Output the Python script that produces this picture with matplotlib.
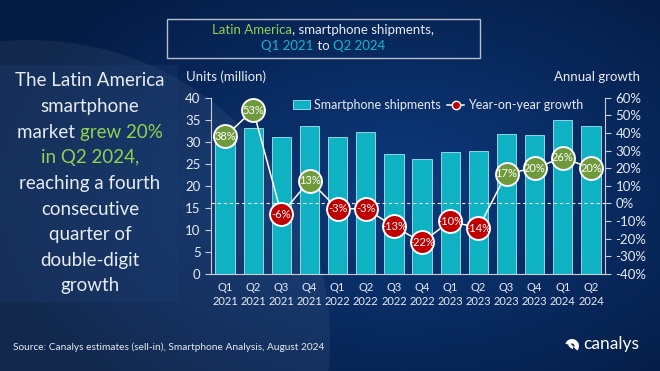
import matplotlib.pyplot as plt
import numpy as np
from matplotlib.patches import Rectangle, Circle, Wedge, Patch
from matplotlib.lines import Line2D

plt.rcParams['font.family'] = ['Lato', 'DejaVu Sans']

# Data
quarters = ["Q1\n2021", "Q2\n2021", "Q3\n2021", "Q4\n2021",
            "Q1\n2022", "Q2\n2022", "Q3\n2022", "Q4\n2022",
            "Q1\n2023", "Q2\n2023", "Q3\n2023", "Q4\n2023",
            "Q1\n2024", "Q2\n2024"]
shipments = [32.0, 33.2, 31.1, 33.5, 31.0, 32.3, 27.2, 26.1,
             27.7, 27.8, 31.7, 31.5, 35.0, 33.5]
growth = [38, 53, -6, 13, -3, -3, -13, -22, -10, -14, 17, 20, 26, 20]

W, H = 660, 371
BAR = "#0FB2C2"
GREEN = "#6F9A3B"
RED = "#C00000"
LIME = "#92D050"
CYAN = "#13B5CC"
TXT = "#E8ECF2"

fig = plt.figure(figsize=(6.6, 3.71), dpi=100)
fig.patch.set_facecolor("#06214F")

# background gradient
bg = fig.add_axes([0, 0, 1, 1], zorder=-10)
yy, xx = np.mgrid[0:H, 0:W]
d = np.sqrt(((xx - 400) / 430.0) ** 2 + ((yy - 190) / 270.0) ** 2)
base = np.array([0x0D, 0x3A, 0x7E]) / 255
edge = np.array([0x04, 0x1B, 0x42]) / 255
t = np.clip(d, 0, 1)[..., None]
img = base * (1 - t) + edge * t
bg.imshow(img, extent=[0, W, H, 0], aspect="auto")
# lighter swoosh on the left
bg.add_patch(Circle((30, 340), 300, facecolor="#ffffff", alpha=0.06, edgecolor="none"))
# left panel
bg.add_patch(Rectangle((0, 65), 178, 237, facecolor="#1C3D70", alpha=0.35, edgecolor="none"))
bg.set_xlim(0, W)
bg.set_ylim(H, 0)
bg.axis("off")


def fx(px):
    return px / W


def fy(py):
    return 1 - py / H


# chart axes
ax = fig.add_axes([fx(211), fy(274), fx(605) - fx(211), fy(97.7) - fy(274)])
ax.patch.set_alpha(0)
x = np.arange(len(quarters))
ax.bar(x, shipments, 0.69, color=BAR, edgecolor="#A8E4EA", linewidth=0.6,
       label="Smartphone shipments", zorder=2)
ax.set_xlim(-0.5, len(quarters) - 0.5)
ax.set_ylim(0, 40)
ax.set_yticks(range(0, 41, 5))
ax.set_xticks(x)
ax.set_xticklabels(quarters, fontsize=8, color=TXT, linespacing=1.3)
ax.tick_params(axis="x", length=0, pad=6)
ax.tick_params(axis="y", colors="#C8CED8", labelcolor=TXT, labelsize=9.5, length=4, direction="out")
for s in ["top", "right"]:
    ax.spines[s].set_visible(False)
ax.spines["left"].set_color("#C8CED8")
ax.spines["bottom"].set_color("#C8CED8")

ax2 = ax.twinx()
ax2.set_ylim(-40, 60)
ax2.set_yticks(range(-40, 61, 10))
ax2.set_yticklabels([f"{v}%" for v in range(-40, 61, 10)])
ax2.tick_params(axis="y", colors="#C8CED8", labelcolor=TXT, labelsize=9.5, length=4, direction="out")
for s in ["top", "left", "bottom"]:
    ax2.spines[s].set_visible(False)
ax2.spines["right"].set_color("#C8CED8")
ax2.axhline(0, color="#E6E9EF", lw=0.8, ls=(0, (3, 2.5)), zorder=1)
ax2.plot(x, growth, color="white", lw=1.1, zorder=3)
for xi, g in zip(x, growth):
    c = GREEN if g > 0 else RED
    ax2.plot(xi, g, "o", ms=16.5, mfc=c, mec="white", mew=1.4, zorder=4)
    ax2.text(xi, g, f"{g}%", ha="center", va="center", color="white", fontsize=8, zorder=5)

# legend
handles = [Patch(facecolor=BAR, edgecolor="#A8E4EA", lw=0.6),
           Line2D([0], [0], color="white", lw=1.1, marker="o", ms=6, mfc=RED, mec="white", mew=1)]
fig.legend(handles, ["Smartphone shipments", "Year-on-year growth"],
           loc="center", bbox_to_anchor=(fx(438), fy(105)), ncol=2, frameon=False,
           fontsize=9, labelcolor=TXT, handlelength=1.4, handletextpad=0.3,
           columnspacing=0.5)

fig.text(fx(186), fy(77), "Units (million)", color=TXT, fontsize=9.5, va="center")
fig.text(fx(640), fy(77), "Annual growth", color=TXT, fontsize=9.5, va="center", ha="right")

# title box
bg.add_patch(Rectangle((167, 19), 313, 39, facecolor="none", edgecolor="#B8C0CC", lw=1))

fig.canvas.draw()
renderer = fig.canvas.get_renderer()


def rich_line(pieces, cx, cy, size):
    """Draw a centred line made of (text, colour) pieces."""
    objs = []
    for s, c in pieces:
        objs.append(fig.text(0, 0, s, color=c, fontsize=size, va="center", ha="left"))
    widths = [o.get_window_extent(renderer).width for o in objs]
    left = cx - sum(widths) / 2
    for o, w in zip(objs, widths):
        o.set_position((fx(left), fy(cy)))
        left += w


rich_line([("Latin America", LIME), (", smartphone shipments,", TXT)], 323, 30, 9.5)
rich_line([("Q1 2021", CYAN), (" to ", TXT), ("Q2 2024", CYAN)], 323, 46, 9.5)

side = [
    [("The Latin America", TXT)],
    [("smartphone", TXT)],
    [("market ", TXT), ("grew 20%", LIME)],
    [("in Q2 2024,", LIME)],
    [("reaching a fourth", TXT)],
    [("consecutive", TXT)],
    [("quarter of", TXT)],
    [("double-digit", TXT)],
    [("growth", TXT)],
]
for i, pcs in enumerate(side):
    rich_line(pcs, 90, 81 + i * 25.6, 13.5)

fig.text(fx(13), fy(347), "Source: Canalys estimates (sell-in), Smartphone Analysis, August 2024",
         color=TXT, fontsize=7.3, va="center")

# canalys logo
bg.add_patch(Wedge((572, 346), 7, 200, 400, width=4.5, facecolor="white", edgecolor="none"))
bg.add_patch(Wedge((574, 343), 6, 100, 200, width=3, facecolor="white", edgecolor="none"))
fig.text(fx(583), fy(344), "canalys", color="white", fontsize=12.5, va="center")

fig.savefig("out.png", dpi=100, facecolor=fig.get_facecolor())
